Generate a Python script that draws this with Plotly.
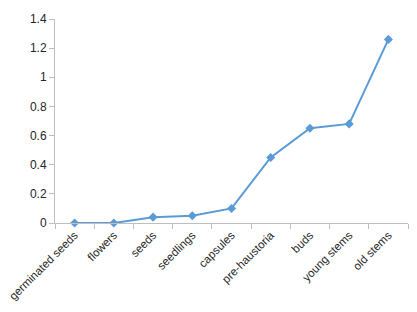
import plotly.graph_objects as go

categories = ["germinated seeds", "flowers", "seeds", "seedlings", "capsules",
              "pre-haustoria", "buds", "young stems", "old stems"]
values = [0.0, 0.0, 0.04, 0.05, 0.10, 0.45, 0.65, 0.68, 1.26]
y_ticks = [0, 0.2, 0.4, 0.6, 0.8, 1, 1.2, 1.4]
y_tick_labels = ["0", "0.2", "0.4", "0.6", "0.8", "1", "1.2", "1.4"]

fig = go.Figure(go.Scatter(
    x=categories, y=values, mode="lines+markers",
    line=dict(color="#5B9BD5", width=2),
    marker=dict(symbol="diamond", size=7, color="#5B9BD5"),
    showlegend=False, cliponaxis=False,
))

# page body has an 8px default margin, so the figure is sized to fit the window
fig.update_layout(
    width=409, height=304,
    margin=dict(l=47, r=9, t=11, b=89),
    paper_bgcolor="white", plot_bgcolor="white",
    font=dict(family="Liberation Sans, Arial, sans-serif", size=12, color="#262626"),
    xaxis=dict(
        type="category", tickangle=-45, showgrid=False, automargin=False,
        showline=True, linecolor="#BFBFBF", linewidth=1,
        ticks="outside", ticklen=5, tickcolor="#BFBFBF", tickson="boundaries",
        range=[-0.5, 8.5], tickfont=dict(size=11.5),
    ),
    yaxis=dict(
        range=[0, 1.4], tickvals=y_ticks, ticktext=y_tick_labels, automargin=False,
        showgrid=False, zeroline=False,
        showline=True, linecolor="#BFBFBF", linewidth=1,
        ticks="outside", ticklen=5, tickcolor="#BFBFBF",
    ),
)

fig.write_html("out.html")
